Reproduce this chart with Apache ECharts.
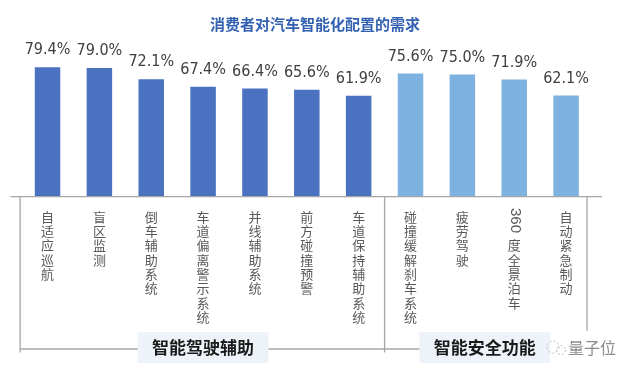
<!DOCTYPE html>
<html>
<head>
<meta charset="utf-8">
<script src="https://cdn.jsdelivr.net/npm/echarts@6/dist/echarts.min.js"></script>
<style>html,body{margin:0;padding:0;background:#fff}#c{width:640px;height:373px}</style>
</head>
<body>
<div id="c"></div>
<script>
const titleText = '消费者对汽车智能化配置的需求';
const categories = ['自适应巡航','盲区监测','倒车辅助系统','车道偏离警示系统','并线辅助系统','前方碰撞预警','车道保持辅助系统','碰撞缓解刹车系统','疲劳驾驶','360度全景泊车','自动紧急制动'];
const values = [79.4,79.0,72.1,67.4,66.4,65.6,61.9,75.6,75.0,71.9,62.1];
const groupNames = ['智能驾驶辅助','智能安全功能'];
const groupSizes = [7,4];
const groupColors = ['#4A72C0','#7DB1E0'];
const watermark = '量子位';

const groupOf = i => { let s = 0; for (let g = 0; g < groupSizes.length; g++) { s += groupSizes[g]; if (i < s) return g; } return groupSizes.length - 1; };

const chart = echarts.init(document.getElementById('c'), null, {renderer:'canvas'});
const LATIN = /^(\d+)(.*)$/;
chart.setOption({
  animation:false,
  title:{text:titleText,left:205,top:12,textStyle:{fontFamily:'Noto Sans CJK SC',fontSize:15,fontWeight:'bold',color:'#3361B2'}},
  grid:{left:21.6,right:48,top:33.7,bottom:176.3},
  xAxis:{type:'category',data:categories,
    axisLine:{show:false},axisTick:{show:false},
    axisLabel:{interval:0,margin:13,color:'#595959',fontFamily:'Noto Sans CJK SC',fontSize:13,lineHeight:14.3,verticalAlign:'top',
      formatter:v=>{const m=v.match(LATIN); if(m){return '\n\n'+m[2].split('').join('\n');} return v.split('').join('\n');}}},
  yAxis:{type:'value',min:0,max:100,show:false,splitLine:{show:false}},
  series:[{type:'bar',barWidth:25.5,
    data:values.map((v,i)=>({value:v,itemStyle:{color:groupColors[groupOf(i)]}})),
    label:{show:true,position:'top',distance:9,color:'#404040',fontFamily:'Liberation Sans Narrow, DejaVu Sans Condensed, sans-serif',fontSize:16,
      formatter:p=>p.value.toFixed(1)+'%'}}]
});

function px(i){return chart.convertToPixel({xAxisIndex:0},i);}
const x0 = px(0), x1 = px(1), step = x1 - x0, half = step/2;
const y0 = chart.convertToPixel({yAxisIndex:0},0);
const leftEdge = x0 - half, rightEdge = px(categories.length-1) + half;
const lineStyle = {stroke:'#A6A6A6',lineWidth:1.3};
const g = [];
g.push({type:'line',shape:{x1:leftEdge-11,y1:y0,x2:rightEdge+10,y2:y0},style:lineStyle,z:10});
// group brackets
let start = 0;
const bottomY = 352.5, hY = 349;
g.push({type:'line',shape:{x1:leftEdge-1.5,y1:y0,x2:leftEdge-1.5,y2:bottomY},style:lineStyle,z:10});
const centers = [];
groupSizes.forEach((n,gi)=>{
  const a = px(start)-half, b = px(start+n-1)+half;
  centers.push((a+b)/2);
  start += n;
});
// separator between groups
const sepX = px(groupSizes[0])-half;
g.push({type:'line',shape:{x1:sepX,y1:y0,x2:sepX,y2:bottomY},style:lineStyle,z:10});
g.push({type:'line',shape:{x1:rightEdge-5,y1:y0,x2:rightEdge-5,y2:331},style:lineStyle,z:10});
g.push({type:'line',shape:{x1:leftEdge-1.5,y1:hY,x2:centers[1],y2:hY},style:lineStyle,z:10});
const boxCenters = [px(3), centers[1]-3.5];
groupNames.forEach((name,gi)=>{
  const cx = boxCenters[gi];
  g.push({type:'rect',shape:{x:cx-65.5,y:332,width:131,height:31},style:{fill:'#EEF3F9'},z:20});
  g.push({type:'text',x:cx,y:348,style:{text:name,font:'bold 17px "Noto Sans CJK SC"',fill:'#1A1A1A',align:'center',verticalAlign:'middle'},z:21});
});
// rotated leading digits for labels like "360度..."
categories.forEach((c,i)=>{
  const m = c.match(LATIN);
  if(m){
    g.push({type:'text',x:px(i)+0.5,y:208,rotation:-Math.PI/2,style:{text:m[1],font:'15px "Liberation Sans"',fill:'#595959',align:'left',verticalAlign:'middle'},z:21});
  }
});
// watermark
g.push({type:'circle',shape:{cx:553,cy:347,r:6},style:{fill:'none',stroke:'#BBBBBB',lineWidth:1,lineDash:[2,2]},z:21});
g.push({type:'circle',shape:{cx:561,cy:350,r:4.5},style:{fill:'none',stroke:'#BBBBBB',lineWidth:1,lineDash:[2,2]},z:21});
g.push({type:'text',x:568,y:348,style:{text:watermark,font:'16px "Noto Sans CJK SC"',fill:'#8C8C8C',align:'left',verticalAlign:'middle'},z:21});
chart.setOption({graphic:g});
</script>
</body>
</html>
